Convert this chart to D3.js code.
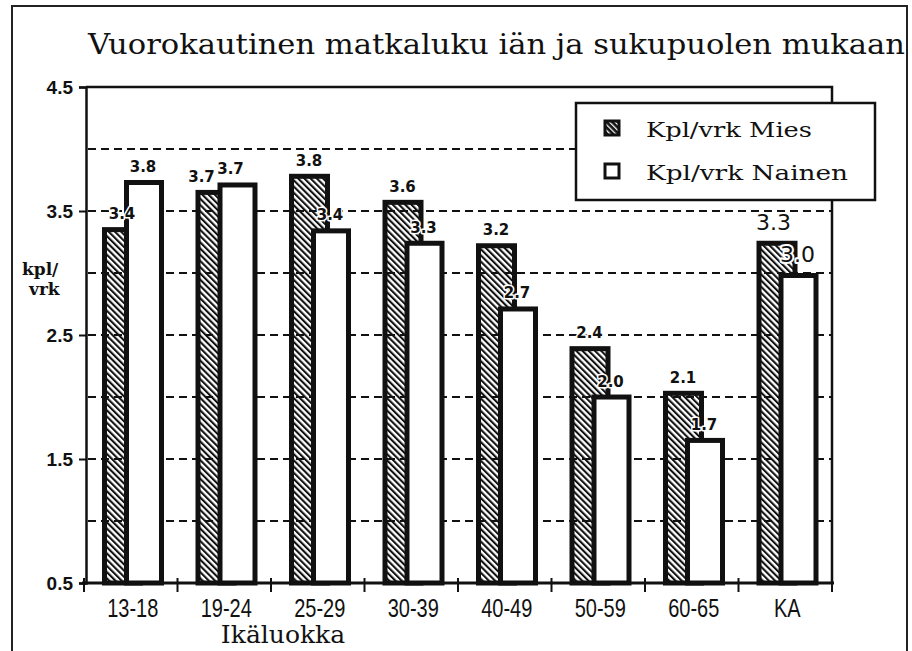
<!DOCTYPE html>
<html>
<head>
<meta charset="utf-8">
<script src="https://cdn.jsdelivr.net/npm/d3@7"></script>
<style>
  body { margin: 0; background: #fff; }
  svg { display: block; }
</style>
</head>
<body>
<div id="chart"></div>
<script>
// data
var categories = ["13-18", "19-24", "25-29", "30-39", "40-49", "50-59", "60-65", "KA"];
var miesValues = [3.37, 3.67, 3.80, 3.59, 3.24, 2.41, 2.05, 3.26];
var nainenValues = [3.75, 3.73, 3.36, 3.26, 2.73, 2.02, 1.67, 3.00];
var miesLabels = ["3.4", "3.7", "3.8", "3.6", "3.2", "2.4", "2.1", "3.3"];
var nainenLabels = ["3.8", "3.7", "3.4", "3.3", "2.7", "2.0", "1.7", "3.0"];
var yTicks = [0.5, 1.5, 2.5, 3.5, 4.5];
var gridValues = [1.0, 1.5, 2.0, 2.5, 3.0, 3.5, 4.0];
var seriesNames = ["Kpl/vrk Mies", "Kpl/vrk Nainen"];

var svgWidth = 912;
var svgHeight = 651;

// plot box
var plotLeft = 84, plotRight = 832, plotTop = 87, plotBottom = 583;

var svg = d3.select("#chart")
  .append("svg")
  .attr("width", svgWidth)
  .attr("height", svgHeight);

// hatch patterns
var defs = svg.append("defs");
defs.append("pattern")
  .attr("id", "hatch")
  .attr("patternUnits", "userSpaceOnUse")
  .attr("width", 4.4)
  .attr("height", 4.4)
  .attr("patternTransform", "rotate(-45)")
  .append("rect")
  .attr("x", 0).attr("y", 0)
  .attr("width", 2.1).attr("height", 4.4)
  .attr("fill", "#111");

var hs = defs.append("pattern")
  .attr("id", "hatchDark")
  .attr("patternUnits", "userSpaceOnUse")
  .attr("width", 4)
  .attr("height", 4)
  .attr("patternTransform", "rotate(-45)");
hs.append("rect").attr("width", 4).attr("height", 4).attr("fill", "#111");
hs.append("rect").attr("width", 1.3).attr("height", 4).attr("fill", "#fff");

// outer frame of the page
svg.append("path")
  .attr("d", "M12,651 V6 H907 V651")
  .attr("fill", "none")
  .attr("stroke", "#222")
  .attr("stroke-width", 2);

// title
svg.append("text")
  .attr("x", 88)
  .attr("y", 54)
  .attr("textLength", 817)
  .attr("lengthAdjust", "spacingAndGlyphs")
  .style("font-family", "'DejaVu Serif', serif")
  .style("font-size", "28px")
  .style("fill", "#111")
  .text("Vuorokautinen matkaluku iän ja sukupuolen mukaan");

// scales
var x = d3.scaleBand()
  .domain(categories)
  .range([plotLeft, plotRight]);

var y = d3.scaleLinear()
  .domain([0.5, 4.5])
  .range([plotBottom, plotTop]);

// grid lines
svg.append("g")
  .selectAll("line")
  .data(gridValues)
  .enter()
  .append("line")
  .attr("x1", plotLeft + 4)
  .attr("x2", plotRight)
  .attr("y1", d => y(d))
  .attr("y2", d => y(d))
  .attr("stroke", "#111")
  .attr("stroke-width", 2)
  .attr("stroke-dasharray", "8,5");

// frame top and right
svg.append("path")
  .attr("d", `M${plotLeft + 2},${plotTop} H${plotRight} V${plotBottom}`)
  .attr("fill", "none")
  .attr("stroke", "#111")
  .attr("stroke-width", 2.5);

// bars
var bw = x.bandwidth();
var miesX = d => x(d) + 18;
var nainenX = d => x(d) + 40;

var groups = svg.append("g")
  .selectAll("g")
  .data(categories)
  .enter()
  .append("g");

groups.append("rect")
  .attr("x", d => miesX(d) + 2.5)
  .attr("y", (d, i) => y(miesValues[i]) + 2.5)
  .attr("width", 36)
  .attr("height", (d, i) => y(0.5) - y(miesValues[i]) - 2.5)
  .attr("fill", "url(#hatch)")
  .attr("stroke", "#111")
  .attr("stroke-width", 5);

groups.append("rect")
  .attr("x", d => nainenX(d) + 2.5)
  .attr("y", (d, i) => y(nainenValues[i]) + 2.5)
  .attr("width", 35)
  .attr("height", (d, i) => y(0.5) - y(nainenValues[i]) - 2.5)
  .attr("fill", "#fff")
  .attr("stroke", "#111")
  .attr("stroke-width", 5);

// value labels, white halo like the knocked-out originals
var labelStyle = function(sel, i) {
  var isKA = categories[i] === "KA";
  sel.attr("text-anchor", "middle")
    .style("font-family", "'DejaVu Sans', sans-serif")
    .style("font-weight", isKA ? "normal" : "bold")
    .style("font-size", isKA ? "22px" : "15px")
    .style("fill", "#111")
    .style("stroke", "#fff")
    .style("stroke-width", isKA ? "4px" : "3px")
    .style("paint-order", "stroke")
    .style("stroke-linejoin", "round");
};

var labelLayer = svg.append("g");
categories.forEach(function(d, i) {
  var isKA = d === "KA";
  var off = isKA ? 11 : 8;
  labelLayer.append("text")
    .attr("x", miesX(d) + 20 - (i === 1 ? 14 : 0) - (isKA ? 3 : 0))
    .attr("y", y(miesValues[i]) - off)
    .call(labelStyle, i)
    .text(miesLabels[i]);
  labelLayer.append("text")
    .attr("x", nainenX(d) + 19 - (i === 1 ? 6 : 0))
    .attr("y", y(nainenValues[i]) - off)
    .call(labelStyle, i)
    .text(nainenLabels[i]);
});

// x axis
var xAxis = svg.append("g")
  .attr("transform", `translate(0, ${plotBottom})`);
xAxis.append("line")
  .attr("x1", plotLeft - 2).attr("x2", plotRight + 2)
  .attr("y1", 0).attr("y2", 0)
  .attr("stroke", "#111")
  .attr("stroke-width", 3);
xAxis.selectAll(".tk")
  .data(categories.concat(["end"]))
  .enter()
  .append("line")
  .attr("x1", (d, i) => plotLeft + i * bw)
  .attr("x2", (d, i) => plotLeft + i * bw)
  .attr("y1", -5)
  .attr("y2", 9)
  .attr("stroke", "#111")
  .attr("stroke-width", 2);
xAxis.selectAll(".lbl")
  .data(categories)
  .enter()
  .append("text")
  .attr("transform", d => `translate(${x(d) + bw / 2 + 2}, 34) scale(0.8, 1)`)
  .attr("text-anchor", "middle")
  .style("font-family", "'Liberation Sans', sans-serif")
  .style("font-size", "25px")
  .style("fill", "#111")
  .text(d => d);

svg.append("text")
  .attr("x", 283)
  .attr("y", 643)
  .attr("text-anchor", "middle")
  .style("font-family", "'DejaVu Serif', serif")
  .style("font-size", "25px")
  .style("fill", "#111")
  .text("Ikäluokka");

// y axis
var leftAxis = d3.axisLeft(y)
  .tickValues(yTicks)
  .tickSize(7)
  .tickPadding(6)
  .tickFormat(d3.format(".1f"));

var yAxisG = svg.append("g")
  .attr("transform", `translate(${plotLeft + 2}, 0)`)
  .call(leftAxis);
yAxisG.select(".domain").attr("stroke", "#111").attr("stroke-width", 2.5);
yAxisG.selectAll(".tick line").attr("stroke", "#111").attr("stroke-width", 2);
yAxisG.selectAll(".tick text")
  .style("font-family", "'Liberation Sans', sans-serif")
  .style("font-weight", "bold")
  .style("font-size", "19px")
  .style("fill", "#111");

// y label
var yl = svg.append("text")
  .style("font-family", "'DejaVu Serif', serif")
  .style("font-weight", "bold")
  .style("font-size", "17px")
  .style("fill", "#111");
yl.append("tspan").attr("x", 22).attr("y", 275).text("kpl/");
yl.append("tspan").attr("x", 29).attr("y", 295).text("vrk");

// legend
var legend = svg.append("g");
legend.append("rect")
  .attr("x", 576)
  .attr("y", 103)
  .attr("width", 299)
  .attr("height", 97)
  .attr("fill", "#fff")
  .attr("stroke", "#111")
  .attr("stroke-width", 2.5);

var legendRows = [
  { name: seriesNames[0], fill: "url(#hatchDark)", y: 121, len: 166 },
  { name: seriesNames[1], fill: "#fff", y: 164, len: 202 }
];
var lr = legend.selectAll(".row")
  .data(legendRows)
  .enter()
  .append("g");
lr.append("rect")
  .attr("x", 605)
  .attr("y", d => d.y)
  .attr("width", 14)
  .attr("height", 14)
  .attr("fill", d => d.fill)
  .attr("stroke", "#111")
  .attr("stroke-width", 3);
lr.append("text")
  .attr("x", 646)
  .attr("y", d => d.y + 16)
  .attr("textLength", d => d.len)
  .attr("lengthAdjust", "spacingAndGlyphs")
  .style("font-family", "'DejaVu Serif', serif")
  .style("font-size", "21px")
  .style("fill", "#111")
  .text(d => d.name);
</script>
</body>
</html>
